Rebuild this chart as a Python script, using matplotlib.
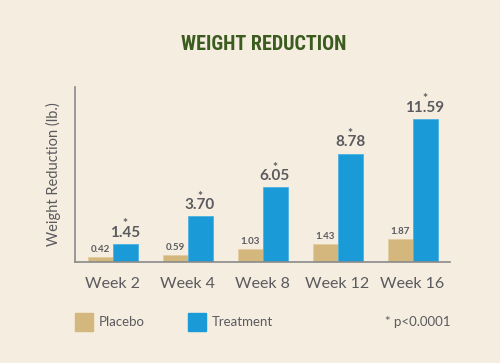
import matplotlib.pyplot as plt
from matplotlib.patches import Rectangle
from matplotlib import font_manager

weeks = ['Week 2', 'Week 4', 'Week 8', 'Week 12', 'Week 16']
placebo = [0.42, 0.59, 1.03, 1.43, 1.87]
treatment = [1.45, 3.70, 6.05, 8.78, 11.59]

bg = '#F5EDDF'
c_plac = '#D4B77C'
c_treat = '#1A9AD6'
grey = '#5A5A5F'

names = set(f.name for f in font_manager.fontManager.ttflist)
title_font = 'Roboto'
for cand in ['Roboto Condensed', 'Open Sans Condensed', 'Liberation Sans Narrow']:
    if cand in names:
        title_font = cand
        break

fig = plt.figure(figsize=(5, 3.63), dpi=100, facecolor=bg)
ax = fig.add_axes([75/500, 1-262/363, 375/500, 175/363])
ax.set_facecolor(bg)

x = list(range(len(weeks)))
w = 1/3
ax.bar([i - w/2 for i in x], placebo, width=w, color=c_plac, edgecolor='#E2CC9E', linewidth=0.6)
ax.bar([i + w/2 for i in x], treatment, width=w, color=c_treat, edgecolor='#4DB2E2', linewidth=0.6)

for i in x:
    ax.text(i - w/2, placebo[i] + 0.25, '%.2f' % placebo[i], ha='center', va='bottom',
            fontsize=7, fontweight='bold', color=grey, family='Lato')
    ax.text(i + w/2, treatment[i] + 0.35, '%.2f' % treatment[i], ha='center', va='bottom',
            fontsize=11, fontweight='bold', color=grey, family='Lato')
    # significance star sits right on top of the value
    ax.text(i + w/2, treatment[i] + 1.2, '*', ha='center', va='bottom',
            fontsize=8.5, fontweight='bold', color=grey, family='Lato')

ax.set_xlim(-0.5, 4.5)
ax.set_ylim(0, 14.2)
ax.set_xticks(x)
ax.set_xticklabels(weeks, fontsize=11.5, color=grey, family='Lato')
ax.tick_params(axis='x', length=0, pad=11)
ax.set_yticks([])
for s in ['top', 'right']:
    ax.spines[s].set_visible(False)
for s in ['left', 'bottom']:
    ax.spines[s].set_color('#8A8A8A')
    ax.spines[s].set_linewidth(1.2)
ax.set_ylabel('Weight Reduction (lb.)', fontsize=10.5, color=grey, family='Lato', labelpad=10)

fig.text(264/500, 1-45/363, 'WEIGHT REDUCTION', ha='center', va='center',
         fontsize=14.5, fontweight='bold', color='#3C5B1E', family=title_font)

# legend
fig.patches.append(Rectangle((75/500, 1-331/363), 18/500, 18/363, transform=fig.transFigure,
                             color=c_plac, zorder=3))
fig.text(99/500, 1-322/363, 'Placebo', va='center', fontsize=9.5, color=grey, family='Lato')
fig.patches.append(Rectangle((188/500, 1-331/363), 18/500, 18/363, transform=fig.transFigure,
                             color=c_treat, zorder=3))
fig.text(212/500, 1-322/363, 'Treatment', va='center', fontsize=9.5, color=grey, family='Lato')
fig.text(385/500, 1-322/363, '* p<0.0001', va='center', fontsize=9.5, color=grey, family='Lato')

fig.savefig('out.png', dpi=100, facecolor=bg)
